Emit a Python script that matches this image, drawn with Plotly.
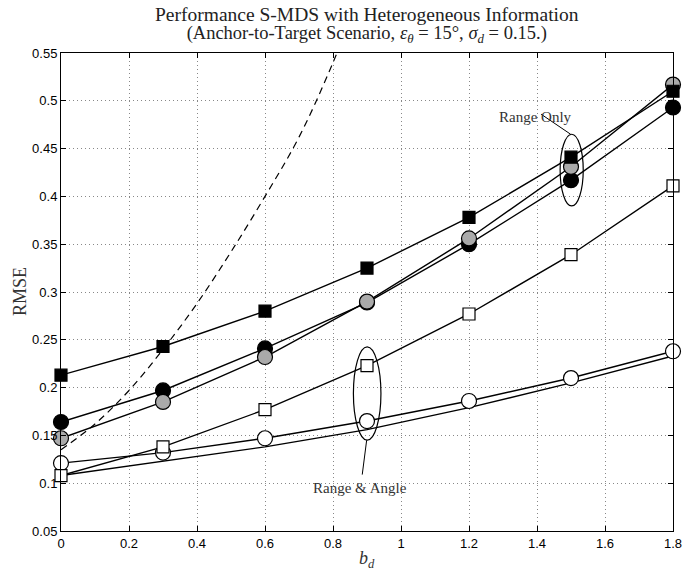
import plotly.graph_objects as go

# ---- data ----
b_d = [0, 0.3, 0.6, 0.9, 1.2, 1.5, 1.8]
black_squares = [0.213, 0.243, 0.280, 0.325, 0.378, 0.441, 0.510]
black_circles = [0.164, 0.197, 0.241, 0.289, 0.350, 0.417, 0.493]
gray_circles = [0.147, 0.185, 0.232, 0.290, 0.356, 0.431, 0.517]
open_circles = [0.121, 0.132, 0.147, 0.165, 0.186, 0.210, 0.238]
open_squares = [0.108, 0.138, 0.177, 0.223, 0.277, 0.339, 0.411]
plain_line = [0.108, 0.123, 0.138, 0.156, 0.179, 0.205, 0.233]

dash_x = [0, 0.1, 0.2, 0.3, 0.4, 0.5, 0.6, 0.7, 0.8, 0.9]
dash_y = [0.135, 0.162, 0.197, 0.240, 0.288, 0.342, 0.400, 0.462, 0.540, 0.630]

x_ticks = [0, 0.2, 0.4, 0.6, 0.8, 1, 1.2, 1.4, 1.6, 1.8]
x_ticktext = ["0", "0.2", "0.4", "0.6", "0.8", "1", "1.2", "1.4", "1.6", "1.8"]
y_ticks = [0.05, 0.1, 0.15, 0.2, 0.25, 0.3, 0.35, 0.4, 0.45, 0.5, 0.55]
y_ticktext = ["0.05", "0.1", "0.15", "0.2", "0.25", "0.3", "0.35", "0.4", "0.45", "0.5", "0.55"]

LW = 1.4
fig = go.Figure()

fig.add_trace(go.Scatter(x=dash_x, y=dash_y, mode="lines",
                         line=dict(color="black", width=1.2, dash="7px,5px", shape="spline"),
                         showlegend=False))
fig.add_trace(go.Scatter(x=b_d, y=plain_line, mode="lines",
                         line=dict(color="black", width=LW), showlegend=False))


def series(y, symbol, fill, size):
    fig.add_trace(go.Scatter(
        x=b_d, y=y, mode="lines+markers",
        line=dict(color="black", width=LW),
        marker=dict(symbol=symbol, size=size, color=fill,
                    line=dict(color="black", width=1.2)),
        cliponaxis=False, showlegend=False))


series(black_circles, "circle", "black", 15)
series(gray_circles, "circle", "#aaaaaa", 15)
series(black_squares, "square", "black", 12)
series(open_circles, "circle", "white", 15)
series(open_squares, "square", "white", 12)

serif = "Liberation Serif, Times New Roman, serif"
sans = "Liberation Sans, Arial, sans-serif"

axis_common = dict(showline=True, linecolor="black", linewidth=1, mirror="ticks",
                   ticks="inside", ticklen=5, tickcolor="black",
                   showgrid=True, gridcolor="#888888", griddash="1px,3px", gridwidth=1,
                   zeroline=False, automargin=False,
                   tickfont=dict(family=sans, size=13))

fig.update_layout(
    width=683, height=574,
    margin=dict(l=61, r=10, t=53, b=43, autoexpand=False),
    paper_bgcolor="white", plot_bgcolor="white",
    font=dict(family=sans, size=13, color="black"),
    xaxis=dict(range=[0, 1.8], tickvals=x_ticks, ticktext=x_ticktext, **axis_common),
    yaxis=dict(range=[0.05, 0.55], tickvals=y_ticks, ticktext=y_ticktext, **axis_common),
)

# ellipses and annotation leaders
fig.add_shape(type="circle", xref="x", yref="y", x0=0.860, x1=0.941, y0=0.145, y1=0.2425,
              line=dict(color="black", width=1.2))
fig.add_shape(type="line", xref="x", yref="y", x0=0.899, y0=0.145, x1=0.886, y1=0.109,
              line=dict(color="black", width=1))
fig.add_shape(type="circle", xref="x", yref="y", x0=1.468, x1=1.536, y0=0.390, y1=0.465,
              line=dict(color="black", width=1.2))
fig.add_shape(type="line", xref="x", yref="y", x0=1.499, y0=0.465, x1=1.412, y1=0.486,
              line=dict(color="black", width=1))

fig.add_annotation(x=0.88, y=0.095, xref="x", yref="y", text="Range &amp; Angle",
                   showarrow=False, font=dict(family=serif, size=15, color="#333333"))
fig.add_annotation(x=1.397, y=0.4826, xref="x", yref="y", text="Range Only",
                   showarrow=False, font=dict(family=serif, size=15, color="#333333"))

# two-line title as a single text block
title_text = ('<span style="font-size:19.5px">Performance S-MDS with Heterogeneous Information</span>'
              '<br><span style="font-size:18.5px">(Anchor-to-Target Scenario, '
              '<i>ε</i><sub><i>θ</i></sub> = 15°, <i>σ</i><sub><i>d</i></sub> = 0.15.)</span>')
fig.add_annotation(x=0.5, y=1, xref="paper", yref="paper", yshift=28, yanchor="middle",
                   text=title_text, showarrow=False,
                   font=dict(family=serif, size=14, color="#222222"))
fig.add_annotation(x=0, y=0.5, xref="paper", yref="paper", xshift=-53,
                   text="RMSE", textangle=-90,
                   showarrow=False, font=dict(family=serif, size=18, color="#333333"))
fig.add_annotation(x=0.5, y=0, xref="paper", yref="paper", yshift=-42,
                   text="<i>b</i><sub><i>d</i></sub>",
                   showarrow=False, font=dict(family=serif, size=18, color="#333333"))

fig.write_html("out.html")
